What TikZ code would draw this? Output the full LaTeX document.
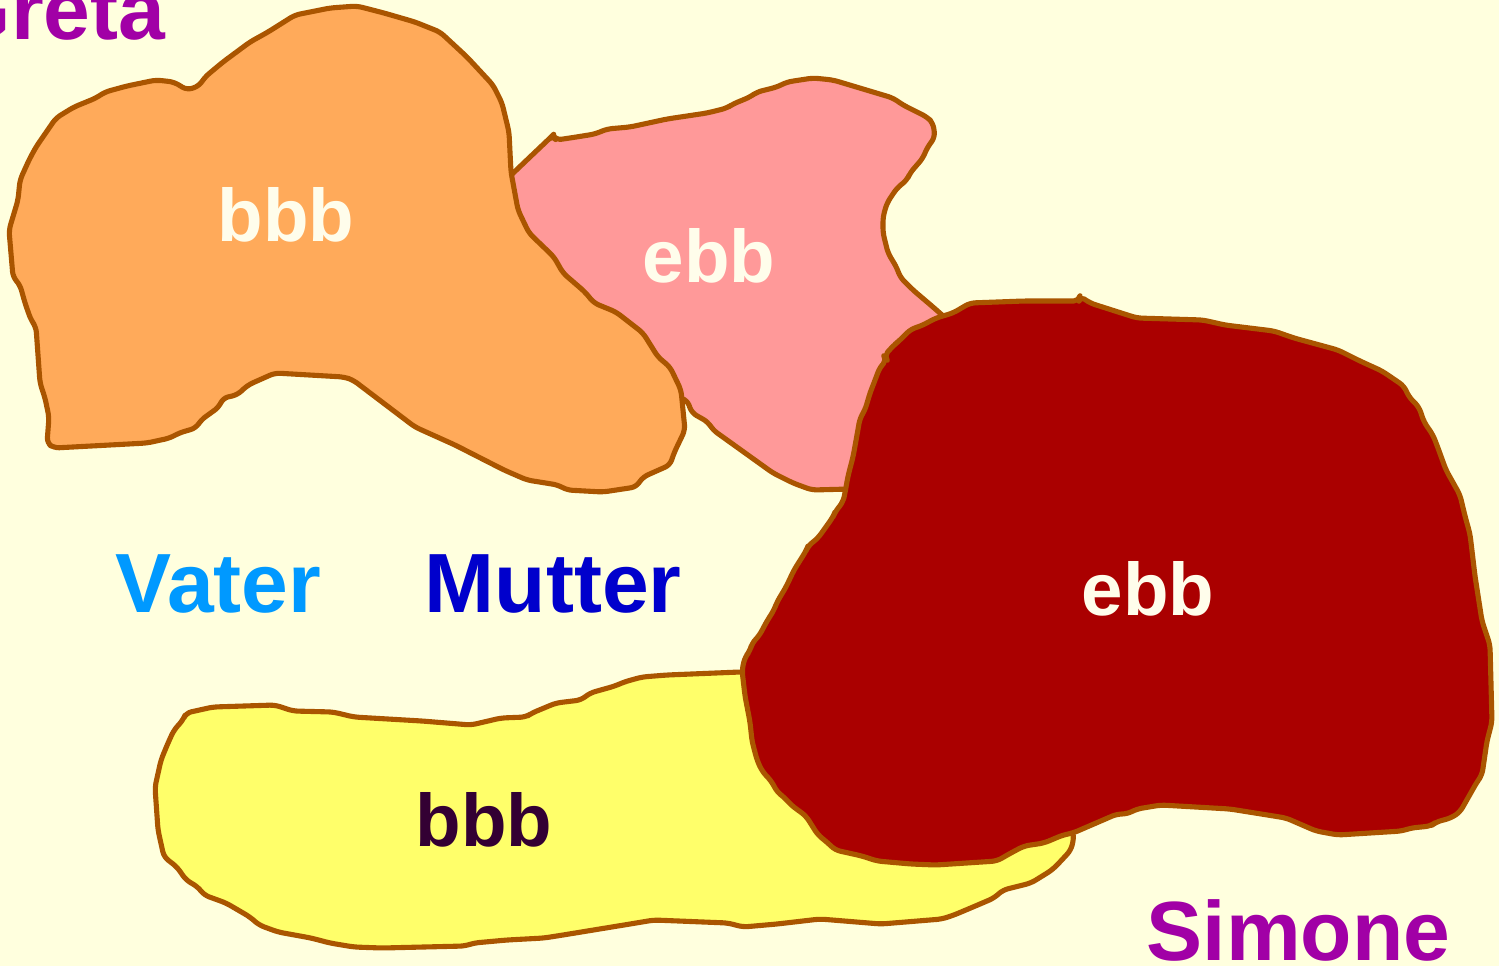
\documentclass[tikz,border=0pt]{standalone}
\usepackage{fontspec}
\setmainfont{Liberation Sans}
\usepackage{xcolor}
\usepackage{tikz}
\definecolor{famback}{HTML}{FFFFDE}
\definecolor{famline}{HTML}{AA5500}
\definecolor{famorange}{HTML}{FFAA5A}
\definecolor{fampink}{HTML}{FF9999}
\definecolor{famred}{HTML}{AA0000}
\definecolor{famyellow}{HTML}{FFFF6A}
\definecolor{famwhite}{HTML}{FFFDEB}
\definecolor{famdark}{HTML}{330033}
\definecolor{fampurple}{HTML}{A100A6}
\definecolor{famsky}{HTML}{0099FF}
\definecolor{famblue}{HTML}{0000CC}
\tikzset{%
  famblob/.style={%
    draw=famline,
    line width=1.45pt,
    line join=round,
    rounded corners=1.5pt
  },
  famname/.style={%
    inner sep=0pt,
    anchor=base west,
    font=\fontsize{23.9}{28}\selectfont\bfseries
  },
  famtag/.style={%
    inner sep=0pt,
    anchor=base,
    font=\fontsize{21.2}{25}\selectfont\bfseries
  }
}

\begin{document}
\begin{tikzpicture}[x=0.01cm,y=-0.01cm]
    \useasboundingbox (0,0) rectangle (1499,966);
    \fill[famback] (0,0) rectangle (1499,966);

    \draw[famblob,fill=fampink] (508,178) -- (530,157) -- (550,138) -- (553,135) -- (556,140) -- (570,138) -- (595,134) -- (607,129) -- (630,127) -- (667,119) -- (707,113) -- (727,108) -- (733,104) -- (750,97) -- (757,92) -- (777,87) -- (787,82) -- (813,78) -- (833,80) -- (853,86) -- (893,98) -- (903,105) -- (927,117) -- (933,123) -- (935,137) -- (927,148) -- (923,158) -- (910,173) -- (907,180) -- (897,188) -- (887,203) -- (883,217) -- (883,233) -- (888,253) -- (897,268) -- (900,277) -- (913,290) -- (933,307) -- (950,322) -- (990,350) -- (900,400) -- (880,470) -- (850,489) -- (812,490) -- (793,483) -- (773,473) -- (727,440) -- (713,430) -- (708,422) -- (692,413) -- (687,400) -- (620,380) -- (540,280) -- (500,200) -- cycle;
    \draw[famblob,fill=famorange] (156,80) -- (174,82) -- (187,90) -- (199,86) -- (205,77) -- (223,62) -- (250,42) -- (268,32) -- (295,15) -- (330,8) -- (357,6) -- (384,13) -- (415,22) -- (440,32) -- (467,57) -- (493,85) -- (502,103) -- (509,132) -- (511,172) -- (518,210) -- (529,233) -- (554,257) -- (563,273) -- (585,292) -- (594,303) -- (616,312) -- (643,333) -- (658,357) -- (670,367) -- (681,390) -- (685,430) -- (674,453) -- (670,465) -- (643,477) -- (636,487) -- (603,492) -- (567,490) -- (558,485) -- (527,480) -- (504,470) -- (455,445) -- (415,427) -- (353,380) -- (344,377) -- (275,373) -- (248,385) -- (237,395) -- (223,398) -- (219,407) -- (201,420) -- (196,428) -- (179,433) -- (170,438) -- (147,443) -- (54,448) -- (47,443) -- (49,417) -- (45,398) -- (40,383) -- (36,327) -- (31,320) -- (25,303) -- (20,285) -- (13,277) -- (9,230) -- (18,200) -- (20,180) -- (29,160) -- (36,147) -- (56,118) -- (74,107) -- (96,98) -- (105,92) -- (127,86) -- cycle;
    \draw[famblob,fill=famyellow] (800,672) -- (740,672) -- (667,675) -- (642,677) -- (624,682) -- (615,686) -- (590,693) -- (581,700) -- (556,703) -- (532,713) -- (526,717) -- (501,718) -- (471,725) -- (422,721) -- (354,717) -- (333,712) -- (293,711) -- (275,705) -- (213,707) -- (186,713) -- (183,720) -- (174,730) -- (168,743) -- (161,760) -- (155,787) -- (158,830) -- (164,857) -- (177,867) -- (186,880) -- (198,887) -- (204,895) -- (226,903) -- (250,917) -- (259,925) -- (278,932) -- (311,938) -- (330,943) -- (354,947) -- (382,948) -- (465,946) -- (474,943) -- (507,940) -- (544,938) -- (563,935) -- (624,925) -- (654,920) -- (728,923) -- (743,927) -- (777,924) -- (820,919) -- (881,924) -- (942,919) -- (954,915) -- (973,907) -- (994,898) -- (1003,890) -- (1031,883) -- (1052,870) -- (1059,863) -- (1071,850) -- (1074,837) -- (1065,800) -- (900,720) -- cycle;
    \draw[famblob,fill=famred] (970,303) -- (1024,301) -- (1079,301) -- (1080,296) -- (1090,303) -- (1137,318) -- (1203,320) -- (1225,325) -- (1274,331) -- (1294,338) -- (1338,350) -- (1360,361) -- (1382,371) -- (1404,386) -- (1409,397) -- (1419,407) -- (1424,422) -- (1433,435) -- (1438,448) -- (1446,470) -- (1460,495) -- (1465,516) -- (1470,534) -- (1475,576) -- (1482,621) -- (1490,645) -- (1492,722) -- (1487,741) -- (1482,775) -- (1477,782) -- (1460,812) -- (1451,818) -- (1436,822) -- (1431,826) -- (1411,828) -- (1402,831) -- (1338,835) -- (1316,831) -- (1286,818) -- (1255,813) -- (1230,809) -- (1161,805) -- (1137,809) -- (1127,814) -- (1117,814) -- (1073,833) -- (1063,835) -- (1044,843) -- (1024,846) -- (1009,854) -- (997,861) -- (936,865) -- (911,864) -- (877,861) -- (862,856) -- (835,850) -- (828,843) -- (818,835) -- (811,824) -- (806,816) -- (791,805) -- (784,797) -- (777,792) -- (772,782) -- (762,771) -- (757,760) -- (752,741) -- (750,722) -- (745,696) -- (742,670) -- (745,657) -- (750,651) -- (752,643) -- (759,636) -- (767,621) -- (774,610) -- (777,602) -- (786,587) -- (794,570) -- (806,551) -- (808,546) -- (818,538) -- (833,517) -- (835,512) -- (843,502) -- (845,493) -- (848,476) -- (853,457) -- (857,435) -- (860,418) -- (865,410) -- (870,393) -- (872,388) -- (880,367) -- (887,360) -- (884,356) -- (894,345) -- (899,341) -- (911,329) -- (921,326) -- (936,318) -- (953,313) -- cycle;

    \node[famtag,text=famwhite] (orangetag) at (286,241) {bbb};
    \node[famtag,text=famwhite] (pinktag) at (709,282) {ebb};
    \node[famtag,text=famwhite] (redtag) at (1148,615) {ebb};
    \node[famtag,text=famdark] (yellowtag) at (484,846) {bbb};

    \node[famname,text=fampurple,anchor=base east] (greta) at (166,39) {Greta};
    \node[famname,text=famsky] (vater) at (115,612) {Vater};
    \node[famname,text=famblue] (mutter) at (424,612) {Mutter};
    \node[famname,text=fampurple] (simone) at (1146,960) {Simone};
  \end{tikzpicture}
\end{document}
